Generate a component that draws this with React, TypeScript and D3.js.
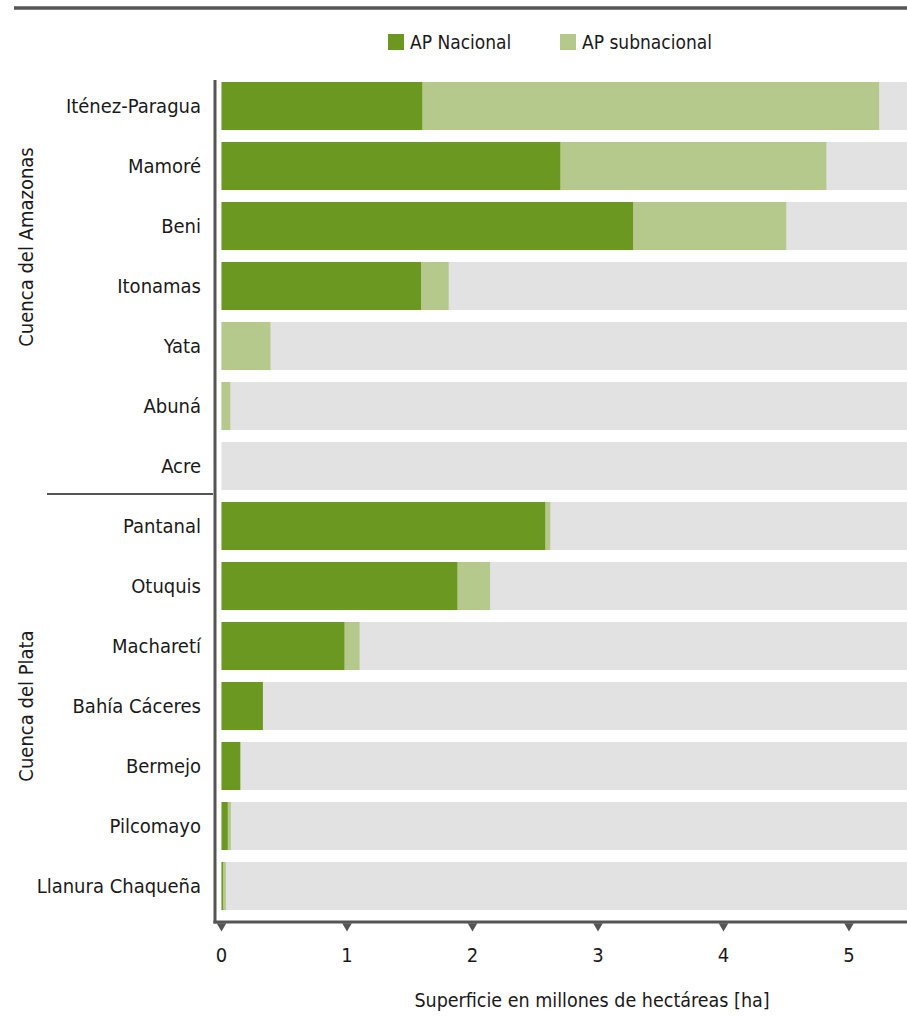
import React from "react";
import * as d3 from "d3";

const categories = [
  "Iténez-Paragua", "Mamoré", "Beni", "Itonamas", "Yata", "Abuná", "Acre",
  "Pantanal", "Otuquis", "Macharetí", "Bahía Cáceres", "Bermejo", "Pilcomayo", "Llanura Chaqueña",
];
const nacional = [1.6, 2.7, 3.28, 1.59, 0, 0, 0, 2.58, 1.88, 0.98, 0.33, 0.15, 0.05, 0.012];
const subnacional = [3.64, 2.12, 1.22, 0.22, 0.39, 0.07, 0, 0.04, 0.26, 0.12, 0, 0, 0.025, 0.023];
const ticks = [0, 1, 2, 3, 4, 5];
const groups = [
  { name: "Cuenca del Amazonas", anchor: "Itonamas", shift: -0.65 },
  { name: "Cuenca del Plata", anchor: "Bahía Cáceres", shift: 0 },
];
const legendItems = ["AP Nacional", "AP subnacional"];

const C_NAC = "#6a9820";
const C_SUB = "#b6c98c";
const C_BG = "#e2e2e2";
const C_AXIS = "#555555";
const FONT = "'Liberation Sans Narrow', 'DejaVu Sans Condensed', 'Roboto', sans-serif";

export default function App() {
  const W = 907, H = 1019;
  const x = d3.scaleLinear().domain([0, 5]).range([221.5, 849]);
  const y = d3.scaleBand<string>().domain(categories).range([76, 916]).paddingInner(0.2).paddingOuter(0.1);
  const xMax = x.invert(W);
  const bw = y.bandwidth();
  const step = y.step();
  const tri = d3.symbol().type(d3.symbolTriangle).size(40);

  return (
    <svg width={W} height={H} style={{ position: "absolute", left: 0, top: 0, fontFamily: FONT }}>
      <rect x={0} y={0} width={W} height={H} fill="#fff" />
      <line x1={14} x2={W} y1={8} y2={8} stroke={C_AXIS} strokeWidth={3.5} />
      {/* legend */}
      {legendItems.map((t, i) => {
        const lx = [388, 560][i];
        return (
          <g key={t}>
            <rect x={lx} y={34} width={16} height={16} fill={i === 0 ? C_NAC : C_SUB} />
            <text x={lx + 22} y={49} fontSize={19} fill="#1a1a1a">{t}</text>
          </g>
        );
      })}
      {/* bars */}
      {categories.map((c, i) => {
        const y0 = y(c)!;
        return (
          <g key={c}>
            <rect x={x(0)} y={y0} width={x(xMax) - x(0)} height={bw} fill={C_BG} />
            <rect x={x(nacional[i])} y={y0} width={x(nacional[i] + subnacional[i]) - x(nacional[i])} height={bw} fill={C_SUB} />
            <rect x={x(0)} y={y0} width={x(nacional[i]) - x(0)} height={bw} fill={C_NAC} />
            <text x={201} y={y0 + bw / 2} dy="0.35em" textAnchor="end" fontSize={20} fill="#1a1a1a">{c}</text>
          </g>
        );
      })}
      {/* divider */}
      <line x1={47} x2={213} y1={494} y2={494} stroke={C_AXIS} strokeWidth={2} />
      {/* group labels */}
      {groups.map((g) => {
        const cy = y(g.anchor)! + bw / 2 + g.shift * step;
        return (
          <text key={g.name} transform={`translate(33,${cy}) rotate(-90)`} textAnchor="middle" fontSize={20} fill="#1a1a1a">{g.name}</text>
        );
      })}
      {/* axes */}
      <line x1={215} x2={215} y1={80} y2={923.5} stroke={C_AXIS} strokeWidth={3} />
      <line x1={213.5} x2={W} y1={922} y2={922} stroke={C_AXIS} strokeWidth={3} />
      {ticks.map((t) => (
        <g key={t}>
          <path d={tri()!} transform={`translate(${x(t)},926) rotate(180)`} fill={C_AXIS} />
          <text x={x(t)} y={962} textAnchor="middle" fontSize={20} fill="#1a1a1a">{t}</text>
        </g>
      ))}
      <text x={592} y={1007} textAnchor="middle" fontSize={19.5} fill="#1a1a1a">Superficie en millones de hectáreas [ha]</text>
    </svg>
  );
}
